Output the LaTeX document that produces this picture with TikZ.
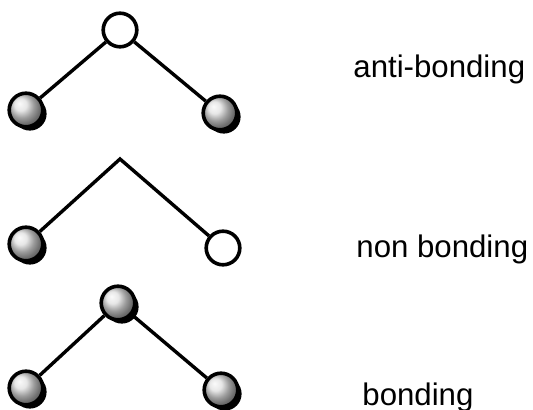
\documentclass[tikz,border=0pt]{standalone}
\usepackage{fontspec}
\newfontfamily\lblfont{Liberation Sans}
\usetikzlibrary{shadows}

\begin{document}
\begin{tikzpicture}[
  x=0.5pt, y=-0.5pt,
  orb/.style   = {circle, draw=black, line width=1.8pt, inner sep=0pt,
                  minimum size=16.8pt},
  empty/.style = {orb, fill=white},
  full/.style  = {orb, ball color=gray!25,
                  drop shadow={shadow xshift=1.9pt, shadow yshift=-1.9pt,
                               fill=black, opacity=1}},
  bond/.style  = {draw=black, line width=1.7pt},
  lbl/.style   = {font=\lblfont\fontsize{15.6}{18}\selectfont,
                  anchor=base west, inner sep=0pt},
]
\useasboundingbox (0,0) rectangle (533,410);

% --- anti-bonding ------------------------------------------------------------------------------
\node[empty] (abTop)   at (120,30)  {};
\node[full]  (abLeft)  at (26,110)  {};
\node[full]  (abRight) at (220,113) {};
\draw[bond] (abLeft) -- (abTop) -- (abRight);
\node[lbl] (abText) at (353,78) {anti-bonding};

% --- non bonding -------------------------------------------------------------------------------
\coordinate (nbTop) at (120,159);
\node[full]  (nbLeft)  at (26,244)  {};
\node[empty] (nbRight) at (223,248) {};
\draw[bond] (nbLeft) -- (nbTop) -- (nbRight);
\node[lbl] (nbText) at (356,257) {non bonding};

% --- bonding -----------------------------------------------------------------------------------
\node[full]  (bTop)   at (118,303) {};
\node[full]  (bLeft)  at (26,388)  {};
\node[full]  (bRight) at (221,390) {};
\draw[bond] (bLeft) -- (bTop) -- (bRight);
\node[lbl] (bText) at (362,405) {bonding};

\end{tikzpicture}
\end{document}
